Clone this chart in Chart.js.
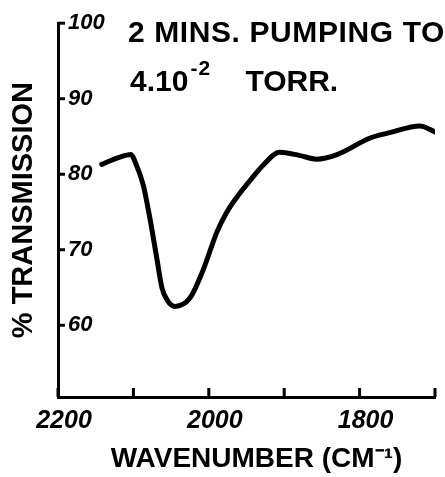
<!DOCTYPE html>
<html>
<head>
<meta charset="utf-8">
<script src="https://cdn.jsdelivr.net/npm/chart.js@4.4.1/dist/chart.umd.min.js"></script>
<style>
  html, body { margin: 0; padding: 0; background: #fff; }
  #wrap { width: 445px; height: 477px; }
</style>
</head>
<body>
<div id="wrap"><canvas id="ir-chart" width="445" height="477"></canvas></div>
<script>
// IR spectrum after pumping, wavenumber in cm-1 (axis runs high to low)
var WAVENUMBER = [2142, 2120, 2103, 2098, 2087, 2078, 2069, 2062, 2055, 2045, 2025, 2008, 1989, 1976, 1961, 1945, 1928, 1906, 1880, 1857, 1830, 1786, 1760, 1720, 1700];
var TRANSMISSION = [81.3, 82.2, 82.6, 81.7, 78.6, 74.1, 68.9, 64.9, 63.3, 62.5, 63.6, 67.2, 72.4, 75.0, 77.2, 79.2, 81.2, 82.9, 82.5, 82.0, 82.6, 84.8, 85.5, 86.4, 85.6];

var X_LABELED = [2200, 2000, 1800];
var Y_TICKS = [60, 70, 80, 90, 100];
var NOTE_LINE_1 = '2 MINS. PUMPING TO';
var NOTE_BASE = '4.10';
var NOTE_EXP = '-2';
var NOTE_UNIT = 'TORR.';
var X_TITLE = 'WAVENUMBER (CM\u207B\u00B9)';
var Y_TITLE = '% TRANSMISSION';

var INK = '#000000';
var FAMILY = '"Liberation Sans", Arial, sans-serif';

(function () {
  var canvas = document.getElementById('ir-chart');

  var points = WAVENUMBER.map(function (wn, i) {
    return { x: wn, y: TRANSMISSION[i] };
  });

  // tick marks sit on the inner side of both axes
  var innerTicks = {
    id: 'innerTicks',
    afterDatasetsDraw: function (chart) {
      var ctx = chart.ctx;
      var area = chart.chartArea;
      var xs = chart.scales.x;
      var ys = chart.scales.y;
      ctx.save();
      ctx.strokeStyle = INK;
      ctx.lineWidth = 3;
      xs.ticks.forEach(function (t) {
        var px = xs.getPixelForValue(t.value);
        ctx.beginPath();
        ctx.moveTo(px, area.bottom);
        ctx.lineTo(px, area.bottom - 9);
        ctx.stroke();
      });
      ys.ticks.forEach(function (t) {
        var py = ys.getPixelForValue(t.value);
        ctx.beginPath();
        ctx.moveTo(area.left, py);
        ctx.lineTo(area.left + 7, py);
        ctx.stroke();
      });
      ctx.restore();
    }
  };

  // pumping note in the upper part of the plot, and the x axis title
  var noteText = {
    id: 'noteText',
    afterDraw: function (chart) {
      var ctx = chart.ctx;
      var area = chart.chartArea;
      var x0 = area.left + 72;
      ctx.save();
      ctx.fillStyle = INK;
      ctx.textBaseline = 'alphabetic';
      ctx.textAlign = 'left';
      ctx.font = 'bold 30px ' + FAMILY;
      ctx.letterSpacing = '0.6px';
      ctx.fillText(NOTE_LINE_1, area.left + 70, area.top + 19);
      ctx.letterSpacing = '0px';
      ctx.fillText(NOTE_BASE, x0, area.top + 68);
      var w = ctx.measureText(NOTE_BASE).width;
      ctx.fillText(NOTE_UNIT, x0 + w + 57, area.top + 68);
      ctx.font = 'bold 21px ' + FAMILY;
      ctx.letterSpacing = '1px';
      ctx.fillText(NOTE_EXP, x0 + w + 2, area.top + 52);
      ctx.letterSpacing = '0px';

      ctx.font = 'bold 28px ' + FAMILY;
      ctx.textAlign = 'center';
      ctx.fillText(X_TITLE, (area.left + area.right) / 2 + 10, chart.height - 10);
      ctx.restore();
    }
  };

  new Chart(canvas, {
    type: 'line',
    data: {
      datasets: [
        {
          label: Y_TITLE,
          data: points,
          borderColor: INK,
          borderWidth: 5,
          pointRadius: 0,
          fill: false,
          cubicInterpolationMode: 'monotone',
          borderCapStyle: 'round',
          borderJoinStyle: 'round'
        }
      ]
    },
    options: {
      responsive: false,
      animation: false,
      layout: { padding: { top: 19, right: 10, left: 0, bottom: 0 } },
      plugins: {
        legend: { display: false },
        tooltip: { enabled: false }
      },
      scales: {
        x: {
          type: 'linear',
          reverse: true,
          min: 1700,
          max: 2200,
          afterFit: function (s) { s.height = 80; },
          grid: { display: false, drawTicks: false },
          border: { display: true, color: INK, width: 3 },
          ticks: {
            stepSize: 100,
            includeBounds: false,
            autoSkip: false,
            maxRotation: 0,
            padding: 9,
            labelOffset: 6,
            color: INK,
            font: { family: FAMILY, size: 25, weight: 'bold', style: 'italic' },
            callback: function (v) {
              return X_LABELED.indexOf(v) >= 0 ? String(v) : '';
            }
          }
        },
        y: {
          min: 50.5,
          max: 100,
          afterFit: function (s) { s.width = 58; },
          grid: { display: false, drawTicks: false },
          border: { display: true, color: INK, width: 3 },
          afterBuildTicks: function (s) {
            s.ticks = Y_TICKS.map(function (v) { return { value: v }; });
          },
          ticks: {
            mirror: true,
            padding: 10,
            color: INK,
            font: { family: FAMILY, size: 22, weight: 'bold', style: 'italic' }
          },
          title: {
            display: true,
            text: Y_TITLE,
            color: INK,
            padding: { top: 7, bottom: 0 },
            font: { family: FAMILY, size: 29, weight: 'bold' }
          }
        }
      }
    },
    plugins: [innerTicks, noteText]
  });
})();
</script>
</body>
</html>
